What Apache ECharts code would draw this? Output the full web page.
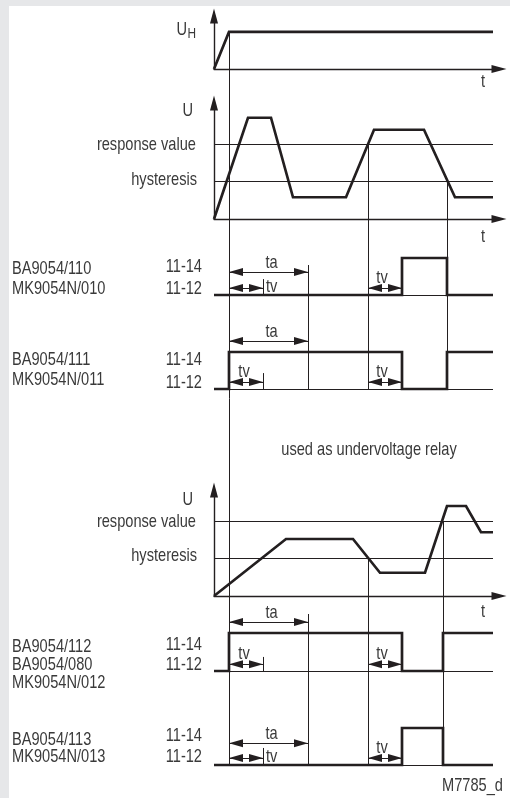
<!DOCTYPE html>
<html><head><meta charset="utf-8">
<script src="https://cdn.jsdelivr.net/npm/echarts@6/dist/echarts.min.js"></script>
<style>html,body{margin:0;padding:0;background:#fff}#c{width:510px;height:798px}</style>
</head><body><div id="c"></div><script>
// ---------- data (time in arbitrary units, voltage relative to response value) ----------
const tEnd = 27.9;
const tOn = 1.5;          // supply U_H reaches nominal value
const taDelay = 7.9;      // start-up suppression ta
const tvDelay = 3.4;      // tripping delay tv
const responseValue = 1.0;
const hysteresisValue = 0.5;
const uhSupply = [[0, 0], [1.5, 1], [27.9, 1]];
const uOver = [[0, 0], [3.4, 1.35], [5.7, 1.35], [7.9, 0.29], [13.2, 0.29], [16.0, 1.19], [21.0, 1.19], [24.1, 0.29], [27.9, 0.29]];
const uUnder = [[0, 0], [7.2, 0.76], [13.9, 0.76], [16.6, 0.31], [21.1, 0.31], [23.3, 1.2], [25.2, 1.2], [26.7, 0.85], [27.9, 0.85]];
const overCrossUp = 15.4, overCrossDown = 23.3;     // U crosses response / hysteresis
const underCrossDown = 15.4, underCrossUp = 22.9;
// relay contact states (1 = 11-14 closed, 0 = 11-12 closed), state holds from t until next t
const relay110 = [[0, 0], [18.8, 1], [23.3, 0], [27.9, 0]];
const relay111 = [[0, 0], [1.5, 1], [18.8, 0], [23.3, 1], [27.9, 1]];
const relay112 = [[0, 0], [1.5, 1], [18.8, 0], [22.9, 1], [27.9, 1]];
const relay113 = [[0, 0], [18.8, 1], [22.9, 0], [27.9, 0]];
const deviceLabels = [["BA9054/110", "MK9054N/010"], ["BA9054/111", "MK9054N/011"], ["BA9054/112", "BA9054/080", "MK9054N/012"], ["BA9054/113", "MK9054N/013"]];
const contactLabels = ["11-14", "11-12"];

// ---------- styling / layout ----------
const FONT = '"Liberation Sans",Arial,sans-serif';
const SX = 0.79;           // horizontal condensing of the text
const INK = '#231f20';
const TXT = '#3a3a3a';
const FS = 18.5;
// grid: baseline pixel (value 0), pixels per unit, ymax
function G(base, ppu, ymax, axes) { return {top: base - ppu * ymax, height: ppu * ymax, ymax, axes}; }
const gridSpec = [
  G(69, 37.06, 1.43, true),
  G(219, 75, 1.5467, true),
  G(295, 37, 1),
  G(389, 37, 1.7),
  G(596, 75, 1.4133, true),
  G(671, 38, 1.7),
  G(765, 37, 1)
];
const axisLine = {show: true, onZero: true, symbol: ['none', 'triangle'], symbolSize: [8, 15], lineStyle: {color: INK, width: 1.4}};
const grid = gridSpec.map(g => ({left: 214, width: 285, top: g.top, height: g.height, containLabel: false, outerBoundsMode: 'none'}));
const xAxis = gridSpec.map((g, i) => ({type: 'value', gridIndex: i, min: 0, max: 28.5, show: !!g.axes, axisLine, axisTick: {show: false}, axisLabel: {show: false}, splitLine: {show: false}}));
const yAxis = gridSpec.map((g, i) => ({type: 'value', gridIndex: i, min: 0, max: g.ymax, show: !!g.axes, axisLine, axisTick: {show: false}, axisLabel: {show: false}, splitLine: {show: false}}));

const thin = {color: INK, width: 1, type: 'solid'};
const arrowSym = {symbol: 'triangle', symbolSize: [8, 14], symbolOffset: [0, 7]};
function hline(v) { return [{coord: [0, v]}, {coord: [tEnd, v]}]; }
function dim(a, b, v) { return [Object.assign({coord: [a, v]}, arrowSym), Object.assign({coord: [b, v]}, arrowSym)]; }
function sigSeries(gi, data, step, marks) {
  return {
    type: 'line', xAxisIndex: gi, yAxisIndex: gi, data, step: step || false, symbol: 'none', silent: true, clip: false,
    lineStyle: {color: INK, width: 2.7, join: 'miter'}, z: 5,
    markLine: marks ? {silent: true, symbol: ['none', 'none'], animation: false, lineStyle: thin,
      label: {show: false}, data: marks} : undefined
  };
}
// per relay row: grid, ta arrow level, tv arrow level, tv label right?, tick top
const rows = [
  {g: 2, data: relay110, taV: 0.62, tvV: 0.19, tvRight: true, tick: 0.43, cross: overCrossUp},
  {g: 3, data: relay111, taV: 1.30, tvV: 0.19, tvRight: false, tick: 0.43, cross: overCrossUp},
  {g: 5, data: relay112, taV: 1.29, tvV: 0.18, tvRight: false, tick: 0.37, cross: underCrossDown},
  {g: 6, data: relay113, taV: 0.59, tvV: 0.19, tvRight: true, tick: 0.46, cross: underCrossDown}
];
const series = [
  sigSeries(0, uhSupply),
  sigSeries(1, uOver, false, [hline(responseValue), hline(hysteresisValue)]),
  sigSeries(4, uUnder, false, [hline(responseValue), hline(hysteresisValue)])
];
rows.forEach(r => {
  series.push(sigSeries(r.g, r.data, 'end', [
    hline(0),
    [{coord: [tOn + tvDelay, 0]}, {coord: [tOn + tvDelay, r.tick]}],
    dim(tOn, tOn + taDelay, r.taV),
    dim(tOn, tOn + tvDelay, r.tvV),
    dim(r.cross, r.cross + tvDelay, r.tvV)
  ]));
});

const chart = echarts.init(document.getElementById('c'));
chart.setOption({animation: false, backgroundColor: '#fff', grid, xAxis, yAxis, series});

// ---------- guides & text (positions converted through the grids' scales) ----------
const guides = [
  {t: tOn, from: [0, 1], to: [6, 0]},
  {t: tOn + taDelay, from: [2, 0.81], to: [3, 0]},
  {t: overCrossUp, from: [1, responseValue], to: [3, 0]},
  {t: overCrossDown, from: [1, hysteresisValue], to: [3, 0]},
  {t: tOn + taDelay, from: [5, 1.5], to: [6, 0]},
  {t: underCrossDown, from: [4, hysteresisValue], to: [6, 0]},
  {t: underCrossUp, from: [4, responseValue], to: [6, 0]}
];
const P = (gi, t, v) => chart.convertToPixel({gridIndex: gi}, [t, v]);
const graphic = [
  {type: 'rect', shape: {x: 0, y: 0, width: 9, height: 798}, style: {fill: '#e6e7e9'}, silent: true},
  {type: 'rect', shape: {x: 0, y: 0, width: 510, height: 6}, style: {fill: '#e6e7e9'}, silent: true}
];
guides.forEach(g => {
  const a = P(g.from[0], g.t, g.from[1]), b = P(g.to[0], g.t, g.to[1]);
  graphic.push({type: 'line', shape: {x1: Math.round(a[0]) + 0.5, y1: a[1], x2: Math.round(a[0]) + 0.5, y2: b[1]}, style: {stroke: INK, lineWidth: 1}, silent: true, z: 1});
});
function T(x, y, text, align, size) {
  return {type: 'text', x, y, scaleX: SX, silent: true, z: 10,
    style: {text, fill: TXT, fontFamily: FONT, fontSize: size || FS, align: align || 'left', verticalAlign: 'middle'}};
}
rows.forEach(r => {
  const ta0 = P(r.g, tOn, r.taV), ta1 = P(r.g, tOn + taDelay, r.taV);
  graphic.push(T((ta0[0] + ta1[0]) / 2 + 3, ta0[1] - 9, 'ta', 'center'));
  const tv0 = P(r.g, tOn, r.tvV), tv1 = P(r.g, tOn + tvDelay, r.tvV);
  if (r.tvRight) graphic.push(T(tv1[0] + 3, tv1[1] - 1, 'tv', 'left'));
  else graphic.push(T((tv0[0] + tv1[0]) / 2 - 2, tv0[1] - 10, 'tv', 'center'));
  const c0 = P(r.g, r.cross, r.tvV), c1 = P(r.g, r.cross + tvDelay, r.tvV);
  graphic.push(T((c0[0] + c1[0]) / 2 - 3, c0[1] - 10, 'tv', 'center'));
});
graphic.push(T(187, 30, 'U', 'right'), T(187.5, 34, 'H', 'left', 15));
graphic.push(T(193, 111, 'U', 'right'), T(196, 145, 'response value', 'right'), T(197, 180, 'hysteresis', 'right'));
graphic.push(T(193, 500, 'U', 'right'), T(196, 522, 'response value', 'right'), T(197, 556, 'hysteresis', 'right'));
graphic.push(T(483, 82, 't', 'center'), T(483, 237, 't', 'center'), T(483, 612, 't', 'center'));
const devY = [[269, 289], [360, 380], [647, 665, 683], [740, 757]];
const conY = [[267, 289], [360, 383], [645, 665], [736, 757]];
deviceLabels.forEach((d, i) => d.forEach((s, j) => graphic.push(T(12, devY[i][j], s, 'left'))));
conY.forEach(ys => ys.forEach((y, j) => graphic.push(T(202, y, contactLabels[j], 'right'))));
graphic.push(T(369, 450, 'used as undervoltage relay', 'center'));
graphic.push(T(503, 786, 'M7785_d', 'right'));
chart.setOption({graphic});
</script></body></html>
